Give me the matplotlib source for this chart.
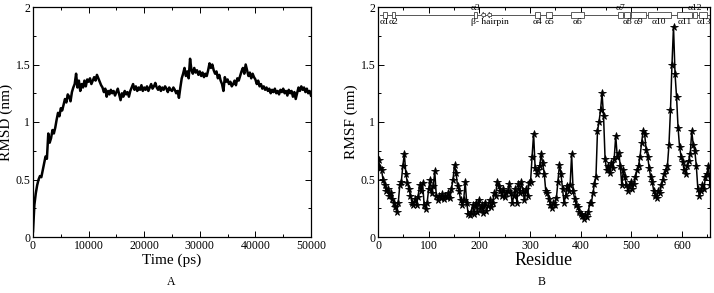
import numpy as np
import matplotlib
matplotlib.use("Agg")
import matplotlib.pyplot as plt
from matplotlib.patches import Rectangle, FancyArrow
from matplotlib.ticker import MultipleLocator

plt.rcParams['font.family'] = ['Liberation Serif', 'DejaVu Serif']

# ---------------- data ----------------
rmsd = [0.05, 0.28, 0.38, 0.45, 0.50, 0.53, 0.52, 0.58, 0.64, 0.70,
        0.68, 0.90, 0.82, 0.86, 0.93, 0.90, 0.95, 1.02, 1.08, 1.05,
        1.12, 1.10, 1.15, 1.20, 1.17, 1.24, 1.22, 1.18, 1.26, 1.30,
        1.33, 1.42, 1.30, 1.36, 1.27, 1.33, 1.30, 1.36, 1.31, 1.37,
        1.35, 1.38, 1.33, 1.36, 1.39, 1.36, 1.41, 1.38, 1.35, 1.32,
        1.30, 1.26, 1.29, 1.22, 1.27, 1.24, 1.28, 1.25, 1.27, 1.23,
        1.26, 1.29, 1.24, 1.19, 1.25, 1.22, 1.27, 1.24, 1.26, 1.22,
        1.27, 1.30, 1.33, 1.28, 1.31, 1.27, 1.30, 1.28, 1.32, 1.27,
        1.30, 1.28, 1.31, 1.27, 1.30, 1.33, 1.29, 1.31, 1.34, 1.30,
        1.28, 1.31, 1.27, 1.30, 1.28, 1.31, 1.29, 1.26, 1.30, 1.28,
        1.27, 1.30, 1.28, 1.25, 1.27, 1.21, 1.30, 1.38, 1.42, 1.47,
        1.40, 1.44, 1.38, 1.55, 1.45, 1.42, 1.47, 1.43, 1.45, 1.41,
        1.44, 1.40, 1.43, 1.39, 1.42, 1.40, 1.45, 1.51, 1.47, 1.50,
        1.45, 1.42, 1.44, 1.38, 1.41, 1.36, 1.33, 1.27, 1.39, 1.35,
        1.37, 1.33, 1.35, 1.31, 1.33, 1.36, 1.32, 1.38, 1.36, 1.40,
        1.44, 1.47, 1.42, 1.50, 1.45, 1.40, 1.43, 1.38, 1.42, 1.39,
        1.37, 1.33, 1.36, 1.31, 1.33, 1.29, 1.31, 1.28, 1.30, 1.27,
        1.29, 1.25, 1.28, 1.26, 1.29, 1.25, 1.27, 1.24, 1.28, 1.26,
        1.29, 1.25, 1.27, 1.23, 1.28, 1.25, 1.27, 1.22, 1.26, 1.20,
        1.25, 1.30, 1.27, 1.31, 1.28, 1.30, 1.26, 1.29, 1.25, 1.27,
        1.23]
time_max = 50000

rmsf = [0.67, 0.60, 0.58, 0.50, 0.45, 0.40, 0.42, 0.36, 0.38, 0.33,
        0.30, 0.26, 0.22, 0.30, 0.45, 0.48, 0.62, 0.72, 0.55, 0.47,
        0.42, 0.36, 0.30, 0.28, 0.33, 0.28, 0.35, 0.45, 0.40, 0.47,
        0.28, 0.24, 0.30, 0.42, 0.50, 0.38, 0.44, 0.57, 0.36, 0.32,
        0.36, 0.34, 0.37, 0.33, 0.36, 0.35, 0.38, 0.34, 0.42, 0.50,
        0.63, 0.56, 0.44, 0.40, 0.32, 0.28, 0.32, 0.48, 0.30, 0.20,
        0.19, 0.22, 0.28, 0.20, 0.30, 0.22, 0.32, 0.24, 0.28, 0.21,
        0.30, 0.23, 0.27, 0.32, 0.26, 0.30, 0.38, 0.36, 0.48, 0.44,
        0.40, 0.36, 0.42, 0.35, 0.38, 0.40, 0.46, 0.38, 0.30, 0.36,
        0.42, 0.30, 0.46, 0.38, 0.48, 0.40, 0.32, 0.42, 0.36, 0.47,
        0.48, 0.70, 0.90, 0.60, 0.55, 0.58, 0.62, 0.72, 0.64, 0.55,
        0.40, 0.38, 0.33, 0.28, 0.25, 0.30, 0.28, 0.34, 0.48, 0.63,
        0.55, 0.42, 0.30, 0.36, 0.44, 0.40, 0.45, 0.72, 0.40, 0.33,
        0.28, 0.26, 0.22, 0.20, 0.18, 0.16, 0.19, 0.17, 0.22, 0.30,
        0.30, 0.38, 0.46, 0.52, 0.92, 1.00, 1.10, 1.25, 1.05, 0.68,
        0.58, 0.62, 0.56, 0.64, 0.60, 0.68, 0.88, 0.70, 0.73, 0.62,
        0.45, 0.58, 0.52, 0.45, 0.40, 0.44, 0.48, 0.42, 0.46, 0.52,
        0.58, 0.62, 0.70, 0.82, 0.92, 0.90, 0.76, 0.70, 0.60, 0.52,
        0.48, 0.40, 0.36, 0.34, 0.40, 0.38, 0.45, 0.50, 0.55, 0.58,
        0.62, 0.80, 1.10, 1.50, 1.83, 1.42, 1.22, 0.95, 0.78, 0.70,
        0.65, 0.58, 0.55, 0.62, 0.66, 0.72, 0.92, 0.80, 0.75, 0.62,
        0.42, 0.36, 0.40, 0.45, 0.42, 0.52, 0.55, 0.62, 0.45]
residue_step = 3

# secondary structure elements (start, end residue)
helix_names = ['α1', 'α2', 'α3', 'α4', 'α5', 'α6', 'α7', 'α8', 'α9', 'α10', 'α11', 'α12', 'α13']
helix_start = [9, 27, 189, 310, 332, 380, 474, 486, 500, 532, 590, 621, 634]
helix_end   = [17, 34, 195, 319, 344, 406, 484, 498, 529, 578, 620, 630, 650]
helix_label_above = [False, False, True, False, False, False, True, False, False, False, False, True, False]
strand_start = [204, 216]
strand_end = [212, 224]
hairpin_label = 'β- hairpin'

# ---------------- figure ----------------
W, H = 714, 293
fig = plt.figure(figsize=(W / 100, H / 100), dpi=100)

def px_axes(l, r, t, b):
    return fig.add_axes([l / W, 1 - b / H, (r - l) / W, (b - t) / H])

axA = px_axes(33, 311, 7, 237)
axB = px_axes(378, 710, 7, 237)

def style(ax):
    ax.tick_params(which='both', direction='in', top=True, right=True,
                   labelsize=8.5, pad=2)
    ax.tick_params(which='major', length=4, width=0.7)
    ax.tick_params(which='minor', length=2.5, width=0.7)
    for s in ax.spines.values():
        s.set_linewidth(0.9)
    ax.set_ylim(0, 2)
    ax.yaxis.set_major_locator(MultipleLocator(0.5))
    ax.yaxis.set_minor_locator(MultipleLocator(0.25))
    ax.set_yticks([0, 0.5, 1, 1.5, 2])
    ax.set_yticklabels(['0', '0.5', '1', '1.5', '2'])

# Panel A
t = np.linspace(0, time_max, len(rmsd))
axA.plot(t, rmsd, color='black', lw=1.8)
axA.set_xlim(0, time_max)
axA.xaxis.set_major_locator(MultipleLocator(10000))
axA.xaxis.set_minor_locator(MultipleLocator(5000))
style(axA)
axA.set_xlabel('Time (ps)', fontsize=11, labelpad=1)
axA.set_ylabel('RMSD (nm)', fontsize=11, labelpad=2)

# Panel B
res = 1 + residue_step * np.arange(len(rmsf))
axB.plot(res, rmsf, color='black', lw=1.1, marker='*', ms=5.5,
         mfc='black', mec='black', mew=0.6)
axB.set_xlim(0, 655)
axB.xaxis.set_major_locator(MultipleLocator(100))
axB.xaxis.set_minor_locator(MultipleLocator(50))
style(axB)
axB.set_xlabel('Residue', fontsize=13, labelpad=0)
axB.set_ylabel('RMSF (nm)', fontsize=11, labelpad=2)

# secondary structure track
ytrack = 1.93
hh = 0.045
axB.plot([3, 655], [ytrack, ytrack], color='#555555', lw=0.7, zorder=2, clip_on=False)
for name, s, e, above in zip(helix_names, helix_start, helix_end, helix_label_above):
    axB.add_patch(Rectangle((s, ytrack - hh / 2), e - s, hh, facecolor='white',
                            edgecolor='#444444', lw=0.6, zorder=3, clip_on=False))
    cx = (s + e) / 2
    if above:
        axB.text(cx, ytrack + hh / 2 + 0.003, name, fontsize=6.8, ha='center', va='bottom')
    else:
        axB.text(cx, ytrack - hh / 2 - 0.003, name, fontsize=6.8, ha='center', va='top')
for s, e in zip(strand_start, strand_end):
    axB.add_patch(FancyArrow(e, ytrack, s - e, 0, width=0.025, head_width=0.05,
                             head_length=4, length_includes_head=True,
                             facecolor='white', edgecolor='#444444', lw=0.6, zorder=3))
axB.text(220, ytrack - hh / 2 - 0.003, hairpin_label, fontsize=6.8, ha='center', va='top')

# panel letters
fig.text(171 / W, 1 - 282 / H, 'A', fontsize=8.5, ha='center', va='center')
fig.text(542 / W, 1 - 282 / H, 'B', fontsize=8.5, ha='center', va='center')

fig.savefig('out.png', dpi=100)
